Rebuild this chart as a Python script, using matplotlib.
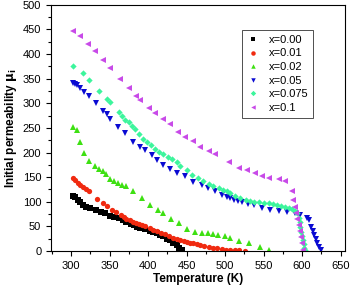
import matplotlib
matplotlib.use("Agg")
import matplotlib.pyplot as plt
from matplotlib.ticker import MultipleLocator

# x=0.00
t_000 = [302.6, 305.6, 308.6, 312, 315.6, 320, 325, 333, 339, 344.5, 351, 356, 362, 368, 372,
         378, 382, 386, 390, 396, 402, 407, 412, 416, 420, 425, 429, 433, 437, 440, 444]
mu_000 = [112, 110, 104, 99, 94, 89, 87, 83, 80, 77, 72, 69, 66, 62, 59,
          54, 53, 49, 46, 44, 41, 39, 36, 32, 30, 25, 23, 16, 13, 6, 1]

# x=0.01
t_001 = [302.6, 305.6, 308.6, 312, 315.6, 320, 324, 334, 341.5, 347, 353, 358.8, 365, 369, 372,
         377, 381, 384, 388, 392, 396, 402, 407, 412, 417, 422, 427, 433, 437, 442, 447,
         451, 455, 459, 463, 468, 473, 479, 484, 490, 496, 501, 507, 513, 518, 526]
mu_001 = [148, 144, 139, 135, 130, 126, 121, 106, 97, 92, 84, 80, 73, 69, 65,
          63, 59, 57, 55, 52, 50, 46, 43, 40, 37, 34, 31, 27, 25, 22, 20,
          19, 17, 16, 14, 12, 11, 9, 7, 6, 4, 3, 2, 1, 1, 0.5]

# x=0.02
t_002 = [302.6, 307.8, 312, 317, 324, 331.6, 337, 341.5, 345, 351, 356, 361, 366, 371.8, 380.5,
         392, 402, 412.5, 420, 430, 440, 450.6, 461.4, 470, 478, 485, 491, 500, 507, 517.7,
         530.6, 545.8, 556.6]
mu_002 = [252, 245, 222, 198, 182, 172, 166, 163, 156, 147, 143, 139, 135, 131, 121,
          107, 94, 84, 78, 65, 56, 44, 39, 37, 36, 34, 32, 30, 26, 21,
          17, 9, 2]

# x=0.05
t_005 = [302.6, 305, 307.8, 312, 317, 324, 333, 342, 347, 351, 360.5, 370.5, 381, 390, 396,
         405, 411.7, 420, 428, 437.7, 448, 459, 470, 478, 487, 496, 503, 507, 512, 517,
         522, 530, 537, 548, 559, 570, 580.5, 591, 598, 606.5, 609, 612, 614, 616, 618,
         620, 622, 624]
mu_005 = [341, 339, 337, 332, 323, 315, 300, 284, 278, 269, 252, 239, 221, 211, 205,
          195, 185, 175, 166, 158, 152, 141, 134, 128, 121, 114, 110, 107, 104, 102,
          99, 96, 94, 88, 84, 82, 80, 78, 73, 67, 62, 48, 40, 32, 24,
          16, 9, 2]

# x=0.075
t_0075 = [303, 315.6, 324, 337, 347, 350, 362, 366, 370.5, 375, 379, 383.5, 388, 393.5, 398.7,
          404, 409.5, 414, 420, 426, 431, 437, 442, 450, 457, 465, 472, 479, 485, 491.7,
          498, 503, 507, 513, 520, 527, 533, 538, 543.6, 550, 556.6, 562, 567.5, 573, 578,
          583, 587, 591, 594, 596, 597, 598, 599, 600, 601, 602, 603, 604]
mu_0075 = [376, 361, 348, 325, 308, 303, 282, 274, 267, 261, 254, 247, 238, 228, 221,
           215, 208, 202, 196, 191, 187, 180, 173, 164, 155, 148, 142, 137, 132, 128,
           124, 121, 118, 112, 108, 104, 101, 100, 99, 98, 97, 95, 94, 92, 90,
           88, 85, 81, 77, 68, 58, 48, 38, 30, 22, 14, 7, 2]

# x=0.1
t_010 = [302.6, 312, 321.6, 331.6, 341.6, 351, 363, 374.8, 384.8, 390, 400.8, 409.5, 420, 429,
         438.5, 448, 458, 468, 479, 487, 505, 518, 528.6, 539, 548, 556.6, 570, 578, 587,
         588.5, 591, 592.5, 594, 595.5, 597, 598.5, 600, 601]
mu_010 = [446, 437, 420, 407, 388, 371, 350, 332, 315, 306, 291, 281, 268, 257,
          242, 232, 223, 211, 204, 196, 181, 169, 164, 159, 153, 148, 146, 143, 121,
          104, 90, 77, 64, 52, 40, 28, 16, 3]

series = [
    ("x=0.00", t_000, mu_000, "s", "black"),
    ("x=0.01", t_001, mu_001, "o", "#f02a10"),
    ("x=0.02", t_002, mu_002, "^", "#3ee012"),
    ("x=0.05", t_005, mu_005, "v", "#0a0ad2"),
    ("x=0.075", t_0075, mu_0075, "D", "#3cf59c"),
    ("x=0.1", t_010, mu_010, "<", "#c84ae8"),
]

plt.rcParams["font.family"] = ["Liberation Sans", "DejaVu Sans"]

fig = plt.figure(figsize=(3.54, 2.91), dpi=100)
ax = fig.add_axes([0.144, 0.1375, 0.831, 0.846])

for label, t, mu, m, c in series:
    ms = 3.8 if m != "D" else 3.2
    ax.plot(t, mu, linestyle="none", marker=m, markersize=ms, color=c,
            markeredgewidth=0, label=label)

ax.set_xlim(274, 656)
ax.set_ylim(0, 500)
ax.xaxis.set_major_locator(MultipleLocator(50))
ax.xaxis.set_minor_locator(MultipleLocator(25))
ax.yaxis.set_major_locator(MultipleLocator(50))
ax.yaxis.set_minor_locator(MultipleLocator(25))
ax.tick_params(which="both", direction="out", top=False, right=False, labelsize=8, width=0.8)
ax.tick_params(which="major", length=3.5)
ax.tick_params(which="minor", length=2)
for s in ax.spines.values():
    s.set_linewidth(0.8)

ax.set_xlabel("Temperature (K)", fontsize=8.5, fontweight="bold", labelpad=2)
ax.set_ylabel(r"Initial permeability $\mathbf{\mu_i}$", fontsize=8.5, fontweight="bold", labelpad=3)

leg = ax.legend(loc="upper right", bbox_to_anchor=(0.891, 0.898), borderaxespad=0,
                fontsize=8, frameon=True, fancybox=False, edgecolor="black",
                handlelength=1.0, handletextpad=0.9, labelspacing=0.32, borderpad=0.45,
                markerscale=0.85)
leg.get_frame().set_linewidth(0.6)

fig.savefig("out.png", dpi=100)
